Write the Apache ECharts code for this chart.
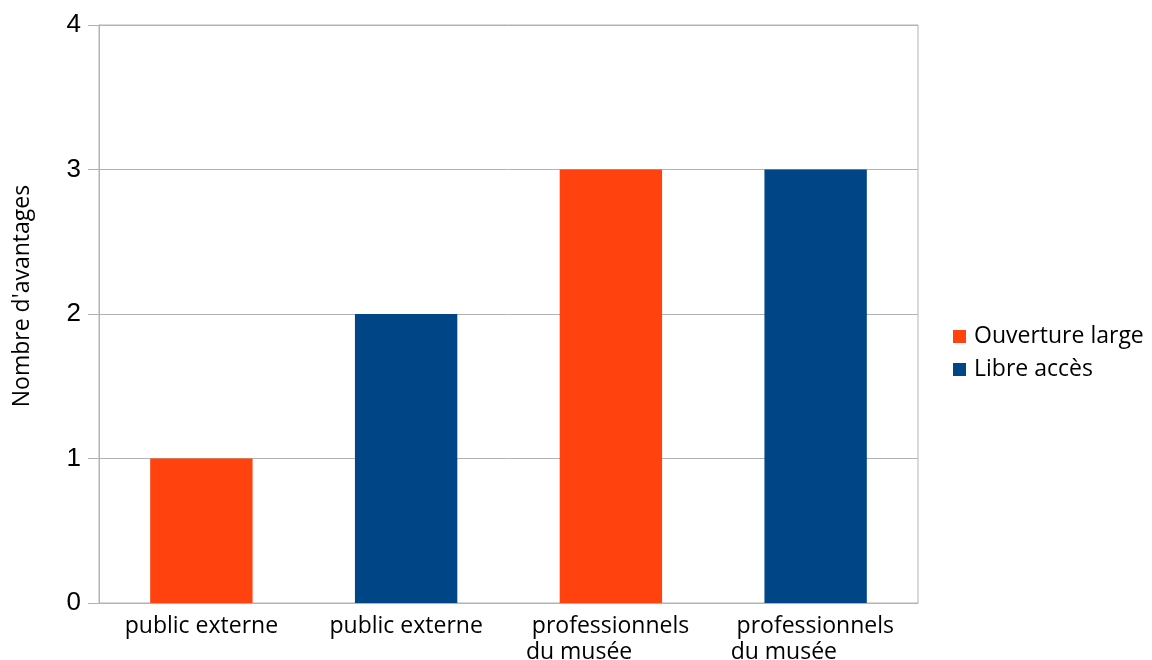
<!DOCTYPE html>
<html><head><meta charset="utf-8">
<script src="https://cdn.jsdelivr.net/npm/echarts@6/dist/echarts.min.js"></script>
<style>html,body{margin:0;padding:0;background:#fff}#c{width:1152px;height:660px}</style>
</head><body><div id="c"></div>
<script>
const categories = ["public externe", "public externe", "professionnels du musée", "professionnels du musée"];
const seriesNames = ["Ouverture large", "Libre accès"];
const ouvertureLarge = [1, null, 3, null];
const libreAcces = [null, 2, null, 3];
const yTicks = [0, 1, 2, 3, 4];
const yTitle = "Nombre d'avantages";

const chart = echarts.init(document.getElementById('c'));
const font = '"Open Sans", sans-serif';
chart.setOption({
  animation: false,
  color: ['#ff420e', '#004586'],
  grid: { left: 99, right: 234, top: 25, bottom: 57, show: true, borderColor: '#b3b3b3', borderWidth: 1, outerBoundsMode: 'none', containLabel: false },
  legend: {
    orient: 'vertical', left: 948, top: 320, itemWidth: 13, itemHeight: 13, itemGap: 10,
    icon: 'rect',
    textStyle: { fontFamily: font, fontSize: 23, color: '#000', padding: [0, 0, 0, 3] },
    data: seriesNames
  },
  xAxis: {
    type: 'category', data: categories,
    axisLine: { lineStyle: { color: '#b3b3b3' } },
    axisTick: { show: false },
    axisLabel: {
      interval: 0, margin: 10, color: '#000', fontFamily: font, fontSize: 23, lineHeight: 26,
      formatter: function (v) {
        if (v.indexOf('professionnels') === 0) {
          return '{l| professionnels}\n{l|du musée}';
        }
        return v;
      },
      rich: { l: { width: 170, align: 'left', fontFamily: font, fontSize: 23, lineHeight: 26, color: '#000' } }
    }
  },
  yAxis: {
    type: 'value', min: yTicks[0], max: yTicks[yTicks.length - 1], interval: 1,
    axisLine: { show: true, lineStyle: { color: '#b3b3b3' } },
    axisTick: { show: true, length: 11, lineStyle: { color: '#b3b3b3' } },
    splitLine: { lineStyle: { color: '#b3b3b3' } },
    axisLabel: { color: '#000', fontFamily: '"Liberation Sans", Arial, sans-serif', fontSize: 26, margin: 18 }
  },
  graphic: [{
    type: 'text', x: 22, y: 296, rotation: Math.PI / 2,
    style: { text: yTitle, fontFamily: font, fontSize: 23, fill: '#000', align: 'center', verticalAlign: 'middle' }
  }],
  series: [
    { name: seriesNames[0], type: 'bar', data: ouvertureLarge, barWidth: '50%', barGap: '-100%' },
    { name: seriesNames[1], type: 'bar', data: libreAcces, barWidth: '50%', barGap: '-100%' }
  ]
});
</script></body></html>
